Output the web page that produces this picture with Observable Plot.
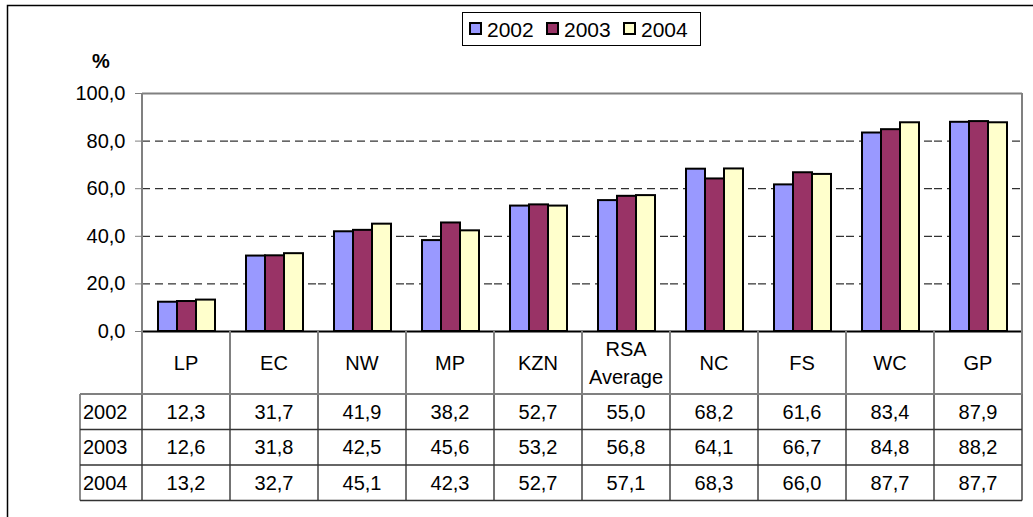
<!DOCTYPE html>
<html><head><meta charset="utf-8">
<script src="https://cdn.jsdelivr.net/npm/d3@7"></script>
<script src="https://cdn.jsdelivr.net/npm/@observablehq/plot@0.6"></script>
<style>
html,body{margin:0;padding:0;background:#fff;}
#chart{position:relative;width:1033px;height:517px;overflow:hidden;font-family:"Liberation Sans",Arial,sans-serif;}
#chart svg{position:absolute;left:0;top:0;}
</style></head><body><div id="chart"></div>
<script>
const categories = ["LP","EC","NW","MP","KZN","RSA Average","NC","FS","WC","GP"];
const years = ["2002","2003","2004"];
const values2002 = [12.3,31.7,41.9,38.2,52.7,55.0,68.2,61.6,83.4,87.9];
const values2003 = [12.6,31.8,42.5,45.6,53.2,56.8,64.1,66.7,84.8,88.2];
const values2004 = [13.2,32.7,45.1,42.3,52.7,57.1,68.3,66.0,87.7,87.7];
const yearColors = ["#9999FF","#993366","#FFFFCC"];
const yTicks = [0,20,40,60,80,100];
const gridTicks = [20,40,60,80];
const axisLabel = "%";

const series = [values2002, values2003, values2004];
const rows = categories.flatMap((c,i)=> years.map((yr,j)=>({category:c, year:yr, value: series[j][i]})));
const fmt = v => v.toFixed(1).replace(".", ",");
const FONT = '"Liberation Sans", Arial, sans-serif';

const plot = Plot.plot({
  width:1033, height:517, marginLeft:141, marginRight:11, marginTop:93, marginBottom:186,
  style:{fontFamily:FONT, fontSize:"20px", background:"transparent", overflow:"visible"},
  fx:{domain:categories, padding:0, axis:null, label:null},
  x:{domain:years, paddingInner:0, paddingOuter:0.74, axis:null},
  y:{domain:[0,100], label:null},
  color:{domain:years, range:yearColors},
  marks:[
    Plot.ruleY(gridTicks, {stroke:"#000", strokeDasharray:"8,5", strokeWidth:1}),
    Plot.barY(rows, {fx:"category", x:"year", y:"value", fill:"year", stroke:"#000", strokeWidth:2}),
    Plot.ruleY([0], {stroke:"#000", strokeWidth:2}),
    Plot.ruleY([100], {stroke:"#808080", strokeWidth:2}),
    Plot.axisY(yTicks, {tickFormat: fmt, tickSize:7, tickPadding:10, stroke:"#808080", fill:"#000", fontSize:20, label:null})
  ]
});
document.getElementById("chart").appendChild(plot);

const svg = d3.select(plot);
const fx = plot.scale("fx");
const ys = plot.scale("y");
const bw = fx.bandwidth;
const left = fx.apply(categories[0]);
const right = fx.apply(categories[categories.length-1]) + bw;
const top0 = ys.apply(100), base = ys.apply(0);
const g = svg.append("g").attr("font-family", FONT).attr("font-size", 20).attr("text-anchor","start");

// outer chart frame
g.append("path").attr("d", `M7.5,517V5.5H1033`).attr("fill","none").attr("stroke","#000").attr("stroke-width",1.5);
// plot area left & right borders
g.append("line").attr("x1",left).attr("x2",left).attr("y1",top0).attr("y2",base).attr("stroke","#808080").attr("stroke-width",2);
g.append("line").attr("x1",right).attr("x2",right).attr("y1",top0).attr("y2",base).attr("stroke","#808080").attr("stroke-width",2);
g.append("text").text(axisLabel).attr("x",101).attr("y",68).attr("text-anchor","middle").attr("font-weight","bold");

// data table
const headH = 63, rowH = 35.5, tableLeft = 80;
const headBottom = base + headH;
const rowY = k => headBottom + k*rowH;
const bounds = categories.map(c => fx.apply(c)).concat([right]);
bounds.forEach(x => {
  g.append("line").attr("x1",x).attr("x2",x).attr("y1",base).attr("y2",headBottom).attr("stroke","#808080").attr("stroke-width",2);
  g.append("line").attr("x1",x).attr("x2",x).attr("y1",headBottom).attr("y2",rowY(years.length)).attr("stroke","#444").attr("stroke-width",1.5);
});
g.append("line").attr("x1",tableLeft).attr("x2",tableLeft).attr("y1",headBottom).attr("y2",rowY(years.length)).attr("stroke","#666").attr("stroke-width",1.5);
for (let k=0;k<=years.length;k++){
  g.append("line").attr("x1",tableLeft).attr("x2",right).attr("y1",rowY(k)).attr("y2",rowY(k))
    .attr("stroke", k===0 ? "#808080" : "#333").attr("stroke-width", k===0 ? 2 : 1.5);
}
categories.forEach(c => {
  const cx = fx.apply(c) + bw/2;
  const parts = c.split(" ");
  const t = g.append("text").attr("x",cx).attr("text-anchor","middle").attr("fill","#000");
  const cy = base + headH/2;
  parts.forEach((p,i) => {
    t.append("tspan").attr("x",cx).attr("y", cy + 7 + (i - (parts.length-1)/2)*28).text(p);
  });
});
years.forEach((yr,k) => {
  const cy = rowY(k) + rowH/2 + 7;
  g.append("text").text(yr).attr("x",tableLeft+3).attr("y",cy).attr("text-anchor","start").attr("fill","#000");
  categories.forEach((c,i) => {
    g.append("text").text(fmt(series[k][i])).attr("x", fx.apply(c)+bw/2).attr("y",cy).attr("text-anchor","middle").attr("fill","#000");
  });
});

// legend
const lg = g.append("g");
lg.append("rect").attr("x",462.5).attr("y",12.5).attr("width",238).attr("height",33).attr("fill","#fff").attr("stroke","#000").attr("stroke-width",1);
const legendX = [470, 547, 624];
years.forEach((yr,k) => {
  lg.append("rect").attr("x",legendX[k]).attr("y",23).attr("width",11).attr("height",11)
    .attr("fill", plot.scale("color").apply(yr)).attr("stroke","#000").attr("stroke-width",2);
  lg.append("text").text(yr).attr("x",legendX[k]+17).attr("y",36.5).attr("font-size",21).attr("text-anchor","start").attr("fill","#000");
});
</script></body></html>
